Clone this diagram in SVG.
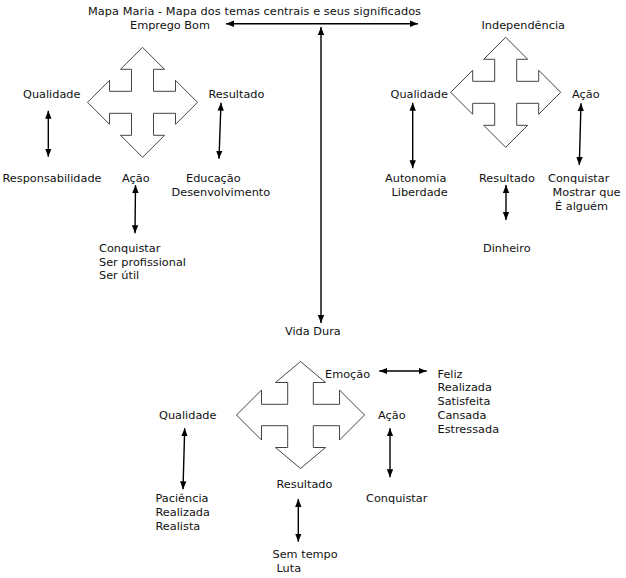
<svg xmlns="http://www.w3.org/2000/svg" width="626" height="578" viewBox="0 0 626 578">
<style>
text{font-family:"DejaVu Sans",Verdana,sans-serif;font-size:11.3px;fill:#111}
.cross{fill:#fff;stroke:#444;stroke-width:1}
.con line{stroke:#000;stroke-width:1.4;marker-start:url(#ah);marker-end:url(#ah)}
</style>
<defs>
<marker id="ah" viewBox="0 0 8 8" refX="8" refY="4" markerWidth="8" markerHeight="8" markerUnits="userSpaceOnUse" orient="auto-start-reverse"><path d="M0,0.8 L8,4 L0,7.2 Z" fill="#000"/></marker>
<path id="cr" d="M0,-55 L22,-33 L11,-33 L11,-11 L33,-11 L33,-22 L55,0 L33,22 L33,11 L11,11 L11,33 L22,33 L0,55 L-22,33 L-11,33 L-11,11 L-33,11 L-33,22 L-55,0 L-33,-22 L-33,-11 L-11,-11 L-11,-33 L-22,-33 Z"/>
</defs>
<rect width="626" height="578" fill="#fff"/>
<g id="title"><text x="88" y="15" textLength="333" lengthAdjust="spacing">Mapa Maria - Mapa dos temas centrais e seus significados</text></g>
<g id="emprego-bom">
<text x="130" y="29">Emprego Bom</text>
<use href="#cr" class="cross" transform="translate(142.5,102.3)"/>
<text x="23" y="98">Qualidade</text>
<text x="208.5" y="98">Resultado</text>
<text x="2.5" y="182">Responsabilidade</text>
<text x="122" y="182">Ação</text>
<text x="186" y="182">Educação</text>
<text x="171.5" y="195.5">Desenvolvimento</text>
<text x="99" y="251.5">Conquistar</text>
<text x="99" y="265.5">Ser profissional</text>
<text x="99" y="279">Ser útil</text>
</g>
<g id="independencia">
<text x="481.5" y="29">Independência</text>
<use href="#cr" class="cross" transform="translate(505.7,92.3)"/>
<text x="390.5" y="97.5">Qualidade</text>
<text x="572" y="97.5">Ação</text>
<text x="385" y="182">Autonomia</text>
<text x="391.5" y="195.5">Liberdade</text>
<text x="479" y="182">Resultado</text>
<text x="548" y="182">Conquistar</text>
<text x="552.5" y="195.5">Mostrar que</text>
<text x="555" y="209.5">É alguém</text>
<text x="483" y="251.5">Dinheiro</text>
</g>
<g id="vida-dura">
<text x="285" y="335">Vida Dura</text>
<path class="cross" d="M300.5,361.5 L325.5,382.5 L313.3,382.5 L313.3,404.3 L339.5,404.3 L339.5,390 L364.5,415 L339.5,440 L339.5,425.7 L313.3,425.7 L313.3,447.5 L325.5,447.5 L300.5,468.5 L275.5,447.5 L287.7,447.5 L287.7,425.7 L261.5,425.7 L261.5,440 L236.5,415 L261.5,390 L261.5,404.3 L287.7,404.3 L287.7,382.5 L275.5,382.5 Z"/>
<text x="325" y="377.5">Emoção</text>
<text x="437.5" y="377.5">Feliz</text>
<text x="437.5" y="391">Realizada</text>
<text x="437.5" y="404.5">Satisfeita</text>
<text x="437.5" y="418.5">Cansada</text>
<text x="437.5" y="432.5">Estressada</text>
<text x="159" y="418.5">Qualidade</text>
<text x="378" y="418.5">Ação</text>
<text x="276.5" y="488">Resultado</text>
<text x="155.5" y="502">Paciência</text>
<text x="155.5" y="516">Realizada</text>
<text x="155.5" y="529.5">Realista</text>
<text x="366" y="502">Conquistar</text>
<text x="272.5" y="557.5">Sem tempo</text>
<text x="276.5" y="571.5">Luta</text>
</g>
<g id="connectors" class="con">
<line x1="226" y1="23.7" x2="418" y2="23.7"/>
<line x1="321" y1="27" x2="321" y2="323"/>
<line x1="48.3" y1="110.7" x2="48.3" y2="156.7"/>
<line x1="221" y1="102.7" x2="219" y2="158.7"/>
<line x1="135.5" y1="185" x2="135" y2="233.3"/>
<line x1="412.7" y1="102.7" x2="412.7" y2="168.3"/>
<line x1="581" y1="103.3" x2="579.3" y2="165"/>
<line x1="506" y1="185" x2="506" y2="220"/>
<line x1="379.3" y1="371" x2="426.7" y2="371"/>
<line x1="184.7" y1="428.3" x2="183" y2="489.3"/>
<line x1="390" y1="428.3" x2="390" y2="477.3"/>
<line x1="298.3" y1="499" x2="298.3" y2="541.7"/>
</g>
</svg>
